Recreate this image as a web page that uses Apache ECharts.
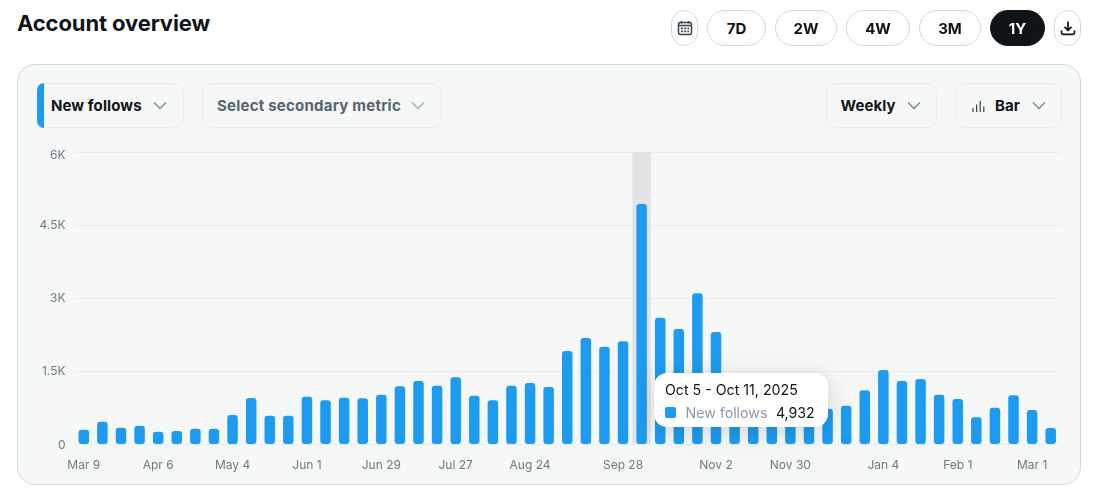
<!DOCTYPE html>
<html><head><meta charset="utf-8">
<style>
html,body{margin:0;padding:0;background:#fff;width:1094px;height:498px;overflow:hidden;font-family:Inter,"Noto Sans",sans-serif;color:#0f1419}
.abs{position:absolute;box-sizing:border-box;display:flex;align-items:center;justify-content:center}
#title{position:absolute;left:17px;top:8px;font-size:22px;font-weight:700;line-height:30px;letter-spacing:-.12px}
#panel{position:absolute;left:17px;top:64px;width:1064px;height:421px;box-sizing:border-box;background:#f6f8f8;border:1px solid #cfd9de;border-radius:18px}
#chart{position:absolute;left:0;top:0;width:1094px;height:498px}
.pill{top:10px;height:36px;border:1px solid #cfd9de;border-radius:18px;background:#fff;font-weight:700;font-size:15px}
.pill.on{background:#0f1419;color:#fff;border-color:#0f1419}
.dd{top:83px;height:45px;border:1px solid #e9eded;border-radius:10px;font-weight:700;font-size:15px;z-index:2;background:#f6f8f8;letter-spacing:.1px}
.dd svg.c{position:absolute;top:17px}
</style></head><body>
<div id="title">Account overview</div>
<div id="panel"></div>
<div id="chart"></div>

<div class="abs pill" style="left:671px;width:27px"><svg width="16" height="16" viewBox="0 0 16 16" fill="none" stroke="#38424a" stroke-width="1.5"><rect x="1.5" y="2.5" width="13" height="12" rx="2"/><path d="M1.5 5.6h13M4.5 1v2.5M11.5 1v2.5"/><path stroke-width="1.6" stroke-dasharray="2 1.2" d="M4 8.4h8M4 11.4h8"/></svg></div>
<div class="abs pill" style="left:707px;width:59px">7D</div>
<div class="abs pill" style="left:775px;width:62px">2W</div>
<div class="abs pill" style="left:846px;width:64px">4W</div>
<div class="abs pill" style="left:919px;width:62px">3M</div>
<div class="abs pill on" style="left:990px;width:55px">1Y</div>
<div class="abs pill" style="left:1054px;width:27px"><svg width="16" height="16" viewBox="0 0 16 16" fill="none" stroke="#0f1419" stroke-width="1.7"><path d="M8 1.5v8.5M4.5 6.8L8 10.2l3.5-3.4M1.5 10.5v2.2c0 .9.7 1.6 1.6 1.6h9.8c.9 0 1.6-.7 1.6-1.6v-2.2"/></svg></div>

<div class="abs dd" style="left:37px;width:147px;justify-content:flex-start;padding-left:13px">
<span style="position:absolute;left:-1px;top:-1px;bottom:-1px;width:7px;background:#1d9bf0;border-radius:10px 0 0 10px"></span>New follows
<svg class="c" style="left:115px" width="14" height="10" viewBox="0 0 14 10" fill="none" stroke="#7d878e" stroke-width="1.4"><path d="M1 1.5l6 6 6-6"/></svg></div>
<div class="abs dd" style="left:202px;width:240px;justify-content:flex-start;padding-left:14px;color:#536471;letter-spacing:.23px">Select secondary metric
<svg class="c" style="left:208px" width="14" height="10" viewBox="0 0 14 10" fill="none" stroke="#a5aeb4" stroke-width="1.4"><path d="M1 1.5l6 6 6-6"/></svg></div>
<div class="abs dd" style="left:826px;width:111px;justify-content:flex-start;padding-left:13.5px">Weekly
<svg class="c" style="left:80px" width="14" height="10" viewBox="0 0 14 10" fill="none" stroke="#7d878e" stroke-width="1.4"><path d="M1 1.5l6 6 6-6"/></svg></div>
<div class="abs dd" style="left:955px;width:107px;justify-content:flex-start;padding-left:39px">Bar
<svg style="position:absolute;left:16px;top:16px" width="13" height="13" viewBox="0 0 13 13" fill="none" stroke="#38424a" stroke-width="1.2"><path d="M1 8v4M4.6 4.5V12M8.2 1v11M11.8 6.5V12"/></svg>
<svg class="c" style="left:76px" width="14" height="10" viewBox="0 0 14 10" fill="none" stroke="#7d878e" stroke-width="1.4"><path d="M1 1.5l6 6 6-6"/></svg></div>

<script src="https://cdn.jsdelivr.net/npm/echarts@6/dist/echarts.min.js"></script>
<script>
const categories = ["Mar 9","Mar 16","Mar 23","Mar 30","Apr 6","Apr 13","Apr 20","Apr 27","May 4","May 11","May 18","May 25","Jun 1","Jun 8","Jun 15","Jun 22","Jun 29","Jul 6","Jul 13","Jul 20","Jul 27","Aug 3","Aug 10","Aug 17","Aug 24","Aug 31","Sep 7","Sep 14","Sep 21","Sep 28","Oct 5","Oct 12","Oct 19","Oct 26","Nov 2","Nov 9","Nov 16","Nov 23","Nov 30","Dec 7","Dec 14","Dec 21","Dec 28","Jan 4","Jan 11","Jan 18","Jan 25","Feb 1","Feb 8","Feb 15","Feb 22","Mar 1","Mar 8"];
const newFollows = [295,459,336,377,253,267,315,315,596,945,582,582,973,897,952,938,1014,1185,1295,1199,1370,993,897,1199,1254,1171,1911,2178,2000,2110,4932,2596,2363,3096,2302,750,650,680,700,690,726,788,1103,1520,1295,1336,1014,925,548,747,1000,699,329];
const tickLabels = ["Mar 9","Apr 6","May 4","Jun 1","Jun 29","Jul 27","Aug 24","Sep 28","Nov 2","Nov 30","Jan 4","Feb 1","Mar 1"];
const yTicks = [0,1500,3000,4500,6000];
const seriesName = "New follows";
const tooltipTitle = "Oct 5 - Oct 11, 2025";
const highlightIndex = 30;

const chart = echarts.init(document.getElementById('chart'), null, {renderer:'canvas'});
const font = 'Inter, "Noto Sans", sans-serif';
const axisText = {color:'#6e7880',fontSize:12,fontFamily:font};
chart.setOption({
  animation:false,
  backgroundColor:'transparent',
  grid:{left:74.5,right:34,top:152,bottom:54},
  tooltip:{
    trigger:'axis',triggerOn:'none',alwaysShowContent:true,transitionDuration:0,
    padding:0,borderWidth:0,backgroundColor:'transparent',
    extraCssText:'box-shadow:none;',
    axisPointer:{type:'shadow',z:1,shadowStyle:{color:'#e1e3e4',opacity:1}},
    position:()=>[654,373],
    formatter:(ps)=>{
      const v=ps[0].value.toLocaleString('en-US');
      return `<div style="box-sizing:border-box;width:174px;height:54px;background:#fff;border-radius:13px;box-shadow:0 4px 24px rgba(15,20,25,.16);padding:5px 11px;font-family:${font.replace(/"/g,"'")};font-size:14.2px;line-height:23px;color:#0f1419">
      <div>${tooltipTitle}</div>
      <div style="display:flex;align-items:center"><span style="flex:none;width:11px;height:11px;border-radius:2px;background:#1d9bf0;margin-right:9.5px"></span><span style="color:#8b98a5;margin-right:8.5px">${seriesName}</span><span>${v}</span></div></div>`;
    }
  },
  xAxis:{
    type:'category',data:categories,
    axisLine:{show:true,lineStyle:{color:'#e8edf0',width:1}},
    axisTick:{show:false},
    splitLine:{show:false},
    axisLabel:Object.assign({},axisText,{margin:15,
      interval:(i,v)=>tickLabels.includes(v),
      hideOverlap:false})
  },
  yAxis:{
    type:'value',min:0,max:6000,interval:1500,
    axisLine:{show:false},axisTick:{show:false},
    splitLine:{lineStyle:{color:'#e9edee',width:1}},
    axisLabel:Object.assign({},axisText,{margin:9,
      formatter:v=>{
        if(!yTicks.includes(v)) return '';
        if(v===0) return '{low|0}';
        const s=(v/1000)+'K';
        return v===6000?'{top|'+s+'}':s;
      },
      rich:{
        top:Object.assign({},axisText,{padding:[7,0,0,0]}),
        low:Object.assign({},axisText,{padding:[2,0,0,0]})
      }})
  },
  series:[{
    name:seriesName,type:'bar',data:newFollows,barWidth:10.5,z:3,
    itemStyle:{color:'#1d9bf0',borderRadius:3},
    emphasis:{disabled:true}
  }]
});
chart.dispatchAction({type:'showTip',seriesIndex:0,dataIndex:highlightIndex});
</script>
</body></html>
